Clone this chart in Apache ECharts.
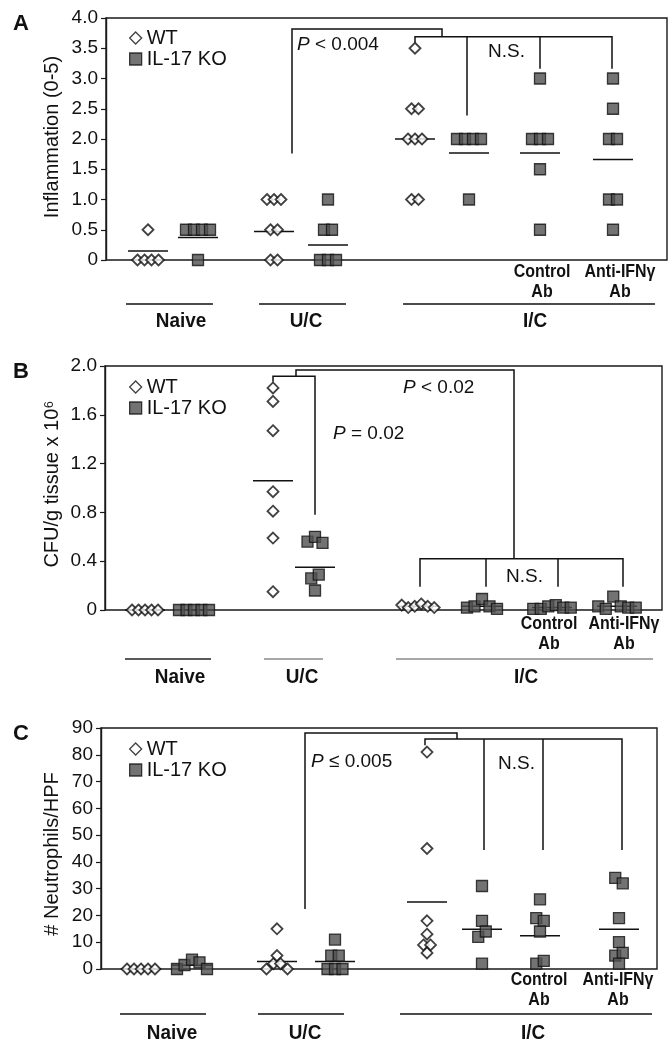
<!DOCTYPE html>
<html>
<head>
<meta charset="utf-8">
<title>Inflammation, CFU and neutrophils</title>
<script src="https://cdn.jsdelivr.net/npm/echarts@6/dist/echarts.min.js"></script>
<style>
  html, body { margin: 0; padding: 0; background: #fff; }
  #chart { width: 672px; height: 1050px; }
</style>
</head>
<body>
<div id="chart"></div>
<script>
// groups from left to right (same in every panel)
const groupNames = ['Naive WT', 'Naive IL-17 KO', 'U/C WT', 'U/C IL-17 KO', 'I/C WT', 'I/C IL-17 KO', 'I/C Control Ab', 'I/C Anti-IFNγ Ab']
const groupGenotype = ['WT', 'IL-17 KO', 'WT', 'IL-17 KO', 'WT', 'IL-17 KO', 'IL-17 KO', 'IL-17 KO']

// A - inflammation score
const inflammation = [
  [0.5, 0, 0, 0, 0],
  [0.5, 0.5, 0.5, 0.5, 0],
  [1, 1, 1, 0.5, 0.5, 0, 0],
  [1, 0.5, 0.5, 0, 0, 0],
  [3.5, 2.5, 2.5, 2, 2, 2, 1, 1],
  [2, 2, 2, 2, 1],
  [3, 2, 2, 2, 1.5, 0.5],
  [3, 2.5, 2, 2, 1, 1, 0.5]
]
const inflammationMean = [0.15, 0.37, 0.47, 0.25, 2.0, 1.77, 1.77, 1.66]

// B - CFU/g tissue x 10^6
const cfu = [
  [0, 0, 0, 0, 0],
  [0, 0, 0, 0, 0],
  [1.82, 1.71, 1.47, 0.97, 0.81, 0.59, 0.15],
  [0.56, 0.60, 0.55, 0.26, 0.29, 0.16],
  [0.04, 0.02, 0.03, 0.05, 0.03, 0.02],
  [0.02, 0.03, 0.09, 0.03, 0.01],
  [0.01, 0.01, 0.03, 0.04, 0.02, 0.02],
  [0.03, 0.01, 0.11, 0.03, 0.02, 0.02]
]
const cfuMean = [0, 0, 1.06, 0.35, 0.03, 0.03, 0.02, 0.03]

// C - neutrophils per HPF
const neutrophils = [
  [0, 0, 0, 0, 0],
  [0, 1.5, 3.5, 2.5, 0],
  [15, 0, 2, 5, 2, 0],
  [11, 5, 5, 0, 0, 0],
  [81, 45, 18, 13, 9, 9, 6],
  [31, 18, 12, 14, 2],
  [26, 19, 18, 14, 2, 3],
  [34, 32, 19, 10, 5, 6, 2]
]
const neutrophilsMean = [0, 1.4, 2.8, 2.8, 25, 14.8, 12.4, 14.8]

// y ticks
const inflammationTicks = { max: 4, interval: 0.5 }
const cfuTicks = { max: 2, interval: 0.4 }
const neutrophilsTicks = { max: 90, interval: 10 }

const FONT = "'Liberation Sans', Arial, sans-serif"
const INK = '#111'

// layout of each panel (page pixels; the x axis runs in page pixels too)
const panels = [
  {
    letter: 'A', values: inflammation, means: inflammationMean, ticks: inflammationTicks,
    title: 'Inflammation (0-5)', titleY: 137, decimals: 1,
    grid: { left: 106, top: 18, width: 561, height: 242 },
    centers: [148, 198, 274, 328, 415, 469, 540, 613],
    tol: 0.2, stepWT: 7, stepKO: 8, legendTop: 23,
    brackets: [
      [[292, 1.76], [292, 3.82], [442, 3.82], [442, 3.69]],
      [[415, 3.59], [415, 3.69], [612, 3.69], [612, 3.16]],
      [[467, 3.69], [467, 2.39]],
      [[540, 3.69], [540, 3.16]]
    ],
    notes: [
      { x: 297, y: 45, text: '{i|P} < 0.004' },
      { x: 488, y: 52, text: 'N.S.' }
    ],
    treatY: 282, lineY: 304, labelY: 321, treatX: [542, 620],
    lines: [[126, 213, '#111'], [259, 346, '#111'], [403, 655, '#111']],
    labels: [[181, 'Naive'], [306, 'U/C'], [535, 'I/C']]
  },
  {
    letter: 'B', values: cfu, means: cfuMean, ticks: cfuTicks,
    title: 'CFU/g tissue x 10⁶', titleY: 484, decimals: 1,
    grid: { left: 105, top: 366, width: 557, height: 244 },
    centers: [145, 194, 273, 315, 418, 482, 552, 617],
    tol: 0.085, stepWT: 6.5, stepKO: 7.5, legendTop: 372,
    brackets: [
      [[273, 1.87], [273, 1.915], [315, 1.915], [315, 0.78]],
      [[296, 1.915], [296, 1.967], [514, 1.967], [514, 0.42]],
      [[420, 0.19], [420, 0.42], [623, 0.42], [623, 0.19]],
      [[486, 0.42], [486, 0.19]],
      [[558, 0.42], [558, 0.19]]
    ],
    notes: [
      { x: 333, y: 434, text: '{i|P} = 0.02' },
      { x: 403, y: 388, text: '{i|P} < 0.02' },
      { x: 506, y: 577, text: 'N.S.' }
    ],
    treatY: 634, lineY: 659, labelY: 677, treatX: [549, 624],
    lines: [[125, 211, '#222'], [264, 323, '#8a8a8a'], [396, 653, '#8a8a8a']],
    labels: [[180, 'Naive'], [302, 'U/C'], [526, 'I/C']]
  },
  {
    letter: 'C', values: neutrophils, means: neutrophilsMean, ticks: neutrophilsTicks,
    title: '# Neutrophils/HPF', titleY: 854, decimals: 0,
    grid: { left: 101, top: 728, width: 556, height: 241 },
    centers: [141, 192, 277, 335, 427, 482, 540, 619],
    tol: 2.3, stepWT: 7, stepKO: 7.5, legendTop: 734,
    brackets: [
      [[305, 22.4], [305, 88.1], [457, 88.1], [457, 85.9]],
      [[425, 83.6], [425, 85.9], [622, 85.9], [622, 44.4]],
      [[484, 85.9], [484, 44.4]],
      [[543, 85.9], [543, 44.4]]
    ],
    notes: [
      { x: 311, y: 762, text: '{i|P} ≤ 0.005' },
      { x: 498, y: 764, text: 'N.S.' }
    ],
    treatY: 990, lineY: 1014, labelY: 1033, treatX: [539, 618],
    lines: [[120, 206, '#111'], [258, 344, '#111'], [400, 652, '#111']],
    labels: [[172, 'Naive'], [305, 'U/C'], [533, 'I/C']]
  }
]

// spread points with (nearly) equal values side by side, in data order
function dodge(values, center, tol, step) {
  const order = values.map((v, i) => i).sort((a, b) => values[a] - values[b])
  const xs = []
  let cluster = [order[0]]
  const flush = () => {
    cluster.sort((a, b) => a - b)
    cluster.forEach((idx, k) => {
      xs[idx] = center + (k - (cluster.length - 1) / 2) * step
    })
  }
  for (let k = 1; k < order.length; k++) {
    if (values[order[k]] - values[order[k - 1]] <= tol + 1e-9) {
      cluster.push(order[k])
    } else {
      flush()
      cluster = [order[k]]
    }
  }
  flush()
  return values.map((v, i) => [xs[i], v])
}

const wtStyle = { color: '#fff', borderColor: '#111', borderWidth: 1.8 }
const koStyle = { color: '#505050', borderColor: '#111', borderWidth: 1.3 }

const series = []
const graphic = []
panels.forEach((p, pi) => {
  const wtData = []
  const koData = []
  p.values.forEach((vals, g) => {
    const isWT = groupGenotype[g] === 'WT'
    const pts = dodge(vals, p.centers[g], p.tol, isWT ? p.stepWT : p.stepKO)
    ;(isWT ? wtData : koData).push(...pts)
  })
  // mean lines
  series.push({
    type: 'custom', xAxisIndex: pi, yAxisIndex: pi, z: 2, silent: true,
    data: p.means.map((m, g) => [p.centers[g], m]),
    renderItem: (params, api) => {
      const a = api.coord([api.value(0) - 20, api.value(1)])
      const b = api.coord([api.value(0) + 20, api.value(1)])
      return {
        type: 'line',
        shape: { x1: a[0], y1: a[1], x2: b[0], y2: b[1] },
        style: { stroke: INK, lineWidth: 1.5 }
      }
    }
  })
  // significance brackets
  series.push({
    type: 'custom', xAxisIndex: pi, yAxisIndex: pi, z: 2, silent: true,
    data: p.brackets.map((b, i) => [b[0][0], b[0][1], i]),
    renderItem: (params, api) => ({
      type: 'polyline',
      shape: { points: p.brackets[params.dataIndex].map(pt => api.coord(pt)) },
      style: { stroke: INK, lineWidth: 1.5, fill: null }
    })
  })
  series.push({
    name: 'WT', type: 'scatter', xAxisIndex: pi, yAxisIndex: pi, z: 4,
    symbol: 'diamond', symbolSize: [11, 11], itemStyle: wtStyle, data: wtData
  })
  series.push({
    name: 'IL-17 KO', type: 'scatter', xAxisIndex: pi, yAxisIndex: pi, z: 4,
    symbol: 'rect', symbolSize: 11, itemStyle: koStyle, data: koData
  })

  // panel letter, axis title
  graphic.push({
    type: 'text', x: 21, y: p.grid.top + 6,
    style: { text: p.letter, font: `bold 22px ${FONT}`, fill: INK, align: 'center', verticalAlign: 'middle' }
  })
  graphic.push({
    type: 'text', x: 52, y: p.titleY, rotation: Math.PI / 2,
    style: { text: p.title, font: `20px ${FONT}`, fill: INK, align: 'center', verticalAlign: 'middle' }
  })
  // P values / N.S.
  p.notes.forEach(n => {
    graphic.push({
      type: 'text', x: n.x, y: n.y,
      style: {
        text: n.text, font: `19px ${FONT}`, fill: INK, verticalAlign: 'middle',
        rich: { i: { fontStyle: 'italic', fontSize: 19, fontFamily: FONT, fill: INK } }
      }
    })
  })
  // treatment labels under the I/C KO groups (narrow bold)
  ;['Control\nAb', 'Anti-IFNγ\nAb'].forEach((t, k) => {
    graphic.push({
      type: 'text', x: p.treatX[k], y: p.treatY, scaleX: 0.84,
      style: { text: t, font: `bold 19px ${FONT}`, fill: INK, align: 'center', verticalAlign: 'middle', lineHeight: 20 }
    })
  })
  // group underlines and labels
  p.lines.forEach(l => {
    graphic.push({
      type: 'line', shape: { x1: l[0], y1: p.lineY, x2: l[1], y2: p.lineY },
      style: { stroke: l[2], lineWidth: 1.5 }
    })
  })
  p.labels.forEach(l => {
    graphic.push({
      type: 'text', x: l[0], y: p.labelY, scaleX: 0.9,
      style: { text: l[1], font: `bold 21px ${FONT}`, fill: INK, align: 'center', verticalAlign: 'middle' }
    })
  })
})

const chart = echarts.init(document.getElementById('chart'))
chart.setOption({
  animation: false,
  backgroundColor: '#fff',
  grid: panels.map(p => Object.assign({ show: true, borderColor: '#1a1a1a', borderWidth: 1.4, containLabel: false }, p.grid)),
  xAxis: panels.map((p, pi) => ({
    type: 'value', gridIndex: pi, show: false,
    min: p.grid.left, max: p.grid.left + p.grid.width
  })),
  yAxis: panels.map((p, pi) => ({
    type: 'value', gridIndex: pi, min: 0, max: p.ticks.max, interval: p.ticks.interval,
    axisLine: { show: true, lineStyle: { color: '#1a1a1a', width: 1.4 } },
    axisTick: { show: true, length: 5, lineStyle: { color: '#1a1a1a', width: 1.2 } },
    splitLine: { show: false },
    axisLabel: {
      fontSize: 19, fontFamily: FONT, color: INK, margin: 8,
      formatter: v => (v === 0 ? '0' : v.toFixed(p.decimals))
    }
  })),
  legend: panels.map(p => ({
    orient: 'vertical', left: 124, top: p.legendTop,
    itemWidth: 12, itemHeight: 12, itemGap: 1, selectedMode: false,
    textStyle: { fontSize: 20, fontFamily: FONT, color: INK, lineHeight: 20 },
    data: [
      { name: 'WT', icon: 'diamond', itemStyle: Object.assign({}, wtStyle, { borderWidth: 1.3 }) },
      { name: 'IL-17 KO', icon: 'rect', itemStyle: koStyle }
    ]
  })),
  graphic: graphic,
  series: series
})
</script>
</body>
</html>
